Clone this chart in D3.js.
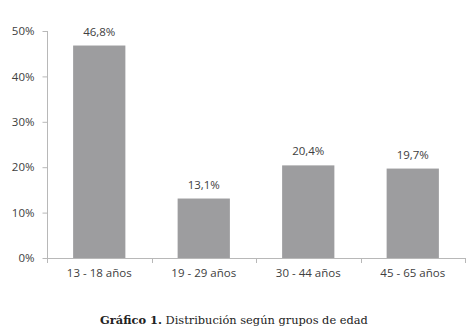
<!DOCTYPE html>
<html>
<head>
<meta charset="utf-8">
<script src="https://cdn.jsdelivr.net/npm/d3@7"></script>
<style>
  body { margin: 0; background: #fff; }
  svg { display: block; }
</style>
</head>
<body>
<script>
/* Data */
const categories = ["13 - 18 años", "19 - 29 años", "30 - 44 años", "45 - 65 años"];
const values = [46.8, 13.1, 20.4, 19.7];
const valueLabels = ["46,8%", "13,1%", "20,4%", "19,7%"];
const yTicks = [0, 10, 20, 30, 40, 50];

const width = 468, height = 336;
const axisColor = "#b8b8b8";
const textColor = "#404040";
const barColor = "#9d9d9f";

const svg = d3.select("body").append("svg")
    .attr("width", width)
    .attr("height", height);

/* scales */
var x = d3.scaleBand()
    .domain(categories)
    .range([47, 465])
    .paddingInner(0.5)
    .paddingOuter(0.25);

var y = d3.scaleLinear()
    .domain([0, 50])
    .range([258, 31]);

/* y axis */
var yAxis = d3.axisLeft(y)
    .tickValues(yTicks)
    .tickFormat(d => d + "%")
    .tickSize(5)
    .tickPadding(8);

const gy = svg.append("g")
    .attr("transform", "translate(47.5,0)")
    .call(yAxis);
gy.selectAll("path, line").attr("stroke", axisColor);
gy.select(".domain").attr("d", "M0," + y(50) + "V" + y(0));
gy.selectAll("text")
    .attr("fill", textColor)
    .style("font-family", "Open Sans, sans-serif")
    .style("font-size", "11.5px");

/* x axis */
var xAxis = d3.axisBottom(x)
    .tickSize(0)
    .tickPadding(10);

const gx = svg.append("g")
    .attr("transform", "translate(0," + (y(0) + 0.5) + ")")
    .call(xAxis);
gx.select(".domain").attr("stroke", axisColor).attr("d", "M47,0H465");
gx.selectAll("text")
    .attr("fill", textColor)
    .style("font-family", "Open Sans, sans-serif")
    .style("font-size", "11.5px");

/* category separators */
const step = x.step();
const bounds = d3.range(categories.length + 1).map(i => 47 + i * step);
svg.append("g").selectAll("line")
    .data(bounds)
    .enter()
    .append("line")
    .attr("x1", d => Math.round(d) + 0.5)
    .attr("x2", d => Math.round(d) + 0.5)
    .attr("y1", y(0))
    .attr("y2", y(0) + 5)
    .attr("stroke", axisColor);

/* bars */
svg.selectAll(".bar")
    .data(values)
    .enter()
    .append("rect")
    .attr("class", "bar")
    .attr("x", (d, i) => x(categories[i]))
    .attr("width", x.bandwidth())
    .attr("y", d => y(d))
    .attr("height", d => y(0) - y(d))
    .style("fill", barColor);

/* value labels */
svg.selectAll(".label")
    .data(values)
    .enter()
    .append("text")
    .attr("class", "label")
    .attr("x", (d, i) => x(categories[i]) + x.bandwidth() / 2)
    .attr("y", d => y(d) - 10)
    .attr("text-anchor", "middle")
    .attr("fill", textColor)
    .style("font-family", "Open Sans, sans-serif")
    .style("font-size", "11.5px")
    .text((d, i) => valueLabels[i]);

/* caption */
const cap = svg.append("text")
    .attr("x", 234)
    .attr("y", 324)
    .attr("text-anchor", "middle")
    .attr("fill", "#222")
    .style("font-family", "DejaVu Serif, serif")
    .style("font-size", "11.4px");
cap.append("tspan").style("font-weight", "bold").text("Gráfico 1.");
cap.append("tspan").text(" Distribución según grupos de edad");
</script>
</body>
</html>
